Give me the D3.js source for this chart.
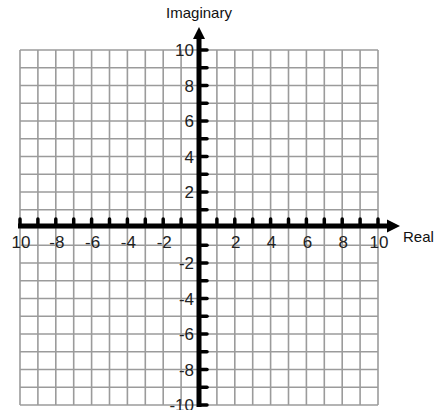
<!DOCTYPE html>
<html>
<head>
<meta charset="utf-8">
<script src="https://cdn.jsdelivr.net/npm/d3@7"></script>
<style>
  html, body { margin: 0; padding: 0; background: #fff; }
  svg { display: block; }
  text { font-family: "Liberation Sans", Arial, sans-serif; }
</style>
</head>
<body>
<svg id="chart" width="437" height="410"></svg>
<script>
// ---- data ----
const gridValues = [-10,-9,-8,-7,-6,-5,-4,-3,-2,-1,0,1,2,3,4,5,6,7,8,9,10];
const tickValues = [-10,-9,-8,-7,-6,-5,-4,-3,-2,-1,1,2,3,4,5,6,7,8,9,10];
const xLabelValues = [-10,-8,-6,-4,-2,2,4,6,8,10];
const xLabelTexts  = ["10","-8","-6","-4","-2","2","4","6","8","10"];
const yLabelValues = [10,8,6,4,2,-2,-4,-6,-8,-10];
const yLabelTexts  = ["10","8","6","4","2","-2","-4","-6","-8","-10"];
const xTitle = "Real";
const yTitle = "Imaginary";

// ---- layout ----
const svg = d3.select("#chart");
const x = d3.scaleLinear().domain([-10, 10]).range([20, 378]);
const y = d3.scaleLinear().domain([-10, 10]).range([405, 50]);
const x0 = x(0), y0 = y(0) - 1.5;

svg.append("rect").attr("width", 437).attr("height", 410).attr("fill", "#fff");

// grid
const grid = svg.append("g").attr("stroke", "#9b9b9b").attr("stroke-width", 1.6);
grid.selectAll("line.v").data(gridValues).enter().append("line")
  .attr("x1", d => x(d)).attr("x2", d => x(d))
  .attr("y1", y(10)).attr("y2", y(-10));
grid.selectAll("line.h").data(gridValues).enter().append("line")
  .attr("y1", d => y(d)).attr("y2", d => y(d))
  .attr("x1", x(-10)).attr("x2", x(10));

// labels (drawn over grid)
const lab = svg.append("g").attr("fill", "#222").attr("font-size", 17);
lab.selectAll("text.x").data(xLabelValues).enter().append("text")
  .attr("x", d => x(d) + 1).attr("y", y0 + 22)
  .attr("text-anchor", "middle")
  .text((d, i) => xLabelTexts[i]);
lab.selectAll("text.y").data(yLabelValues).enter().append("text")
  .attr("x", x0 - 5).attr("y", d => y(d) + 6)
  .attr("text-anchor", "end")
  .text((d, i) => yLabelTexts[i]);

// axes
const ax = svg.append("g");
// horizontal
ax.append("line").attr("x1", x(-10) - 2).attr("x2", x(10) + 12)
  .attr("y1", y0).attr("y2", y0).attr("stroke", "#000").attr("stroke-width", 5);
ax.append("path")
  .attr("d", `M${x(10)+9},${y0-6.5} L${x(10)+22},${y0} L${x(10)+9},${y0+6.5} Z`)
  .attr("fill", "#000");
ax.selectAll("line.xt").data(tickValues).enter().append("line")
  .attr("x1", d => x(d)).attr("x2", d => x(d))
  .attr("y1", y0).attr("y2", y0 - 7)
  .attr("stroke", "#000").attr("stroke-width", 3.5).attr("stroke-linecap", "round");
// vertical
ax.append("line").attr("x1", x0).attr("x2", x0)
  .attr("y1", y(-10) + 2).attr("y2", y(10) - 12)
  .attr("stroke", "#000").attr("stroke-width", 5);
ax.append("path")
  .attr("d", `M${x0-6},${y(10)-11} L${x0},${y(10)-23} L${x0+6},${y(10)-11} Z`)
  .attr("fill", "#000");
ax.selectAll("line.yt").data(tickValues).enter().append("line")
  .attr("x1", x0).attr("x2", x0 + 8)
  .attr("y1", d => y(d)).attr("y2", d => y(d))
  .attr("stroke", "#000").attr("stroke-width", 3.5).attr("stroke-linecap", "round");

// titles
svg.append("text").attr("x", x0).attr("y", 18).attr("text-anchor", "middle")
  .attr("font-size", 15).attr("fill", "#111").text(yTitle);
svg.append("text").attr("x", x(10) + 25).attr("y", y0 + 16).attr("text-anchor", "start")
  .attr("font-size", 15).attr("fill", "#111").text(xTitle);
</script>
</body>
</html>
